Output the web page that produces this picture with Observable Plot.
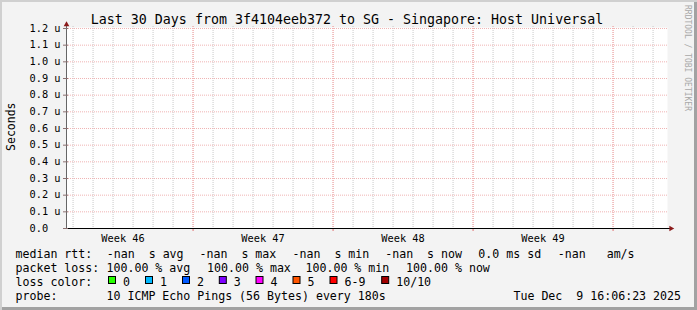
<!DOCTYPE html>
<html><head><meta charset="utf-8">
<script src="https://cdn.jsdelivr.net/npm/d3@7"></script>
<script src="https://cdn.jsdelivr.net/npm/@observablehq/plot@0.6"></script>
<style>
html,body{margin:0;padding:0;background:#f3f3f3;}
#chart{position:relative;width:697px;height:310px;background:#f3f3f3;overflow:hidden;
  box-shadow: inset 2px 2px 0 #d0d0d0, inset -3px -3px 0 #a2a2a2;}
#chart svg{position:absolute;left:0;top:0;}
#chart text{white-space:pre;}
</style></head><body><div id="chart"></div>
<script>
// ---------- data ----------
const title = "Last 30 Days from 3f4104eeb372 to SG - Singapore: Host Universal";
const yLabel = "Seconds";
const watermark = "RRDTOOL / TOBI OETIKER";
const periodStart = "2025-11-09T16:06:23Z";
const periodEnd = "2025-12-09T16:06:23Z";
const yTicks = [0, 0.1, 0.2, 0.3, 0.4, 0.5, 0.6, 0.7, 0.8, 0.9, 1.0, 1.1, 1.2];
const weekStarts = ["2025-11-16T00:00:00Z", "2025-11-23T00:00:00Z", "2025-11-30T00:00:00Z", "2025-12-07T00:00:00Z"];
const weekLabelDates = ["2025-11-12T12:00:00Z", "2025-11-19T12:00:00Z", "2025-11-26T12:00:00Z", "2025-12-03T12:00:00Z"];
const weekLabels = ["Week 46", "Week 47", "Week 48", "Week 49"];
const rttLabel = "median rtt:";
const rttItems = ["-nan  s avg", "-nan  s max", "-nan  s min", "-nan  s now", "0.0 ms sd", "-nan   am/s"];
const lossLabel = "packet loss:";
const lossItems = ["100.00 % avg", "100.00 % max", "100.00 % min", "100.00 % now"];
const lossColorLabel = "loss color:";
const lossLabels = ["0", "1", "2", "3", "4", "5", "6-9", "10/10"];
const lossColors = ["#26ff00", "#00b8ff", "#0059ff", "#7e00ff", "#ff00ff", "#ff5500", "#ff0000", "#a10000"];
const probeLabel = "probe:";
const probeText = "10 ICMP Echo Pings (56 Bytes) every 180s";
const timestamp = "Tue Dec  9 16:06:23 2025";

// ---------- layout ----------
const FONT = "'DejaVu Sans Mono', monospace";
const rowY = [258, 272, 286, 300];
const labelX = 15.5;
const rttX = [106.8, 199.5, 292.5, 385.2, 478.3, 557.8];
const lossX = [106.5, 207.1, 305.5, 406.1];
const swatchX = [108.5, 145.5, 182.5, 219.3, 256, 293, 330, 381.7];
const probeX = 106.5;
const stampX = 681;

// ---------- plot ----------
const x0 = new Date(periodStart), x1 = new Date(periodEnd);
const days = d3.utcDay.range(d3.utcDay.ceil(x0), x1);
const weeks = weekStarts.map(d => new Date(d));
const labelDates = weekLabelDates.map(d => new Date(d));
const labelMap = new Map(labelDates.map((d, i) => [+d, weekLabels[i]]));

const plot = Plot.plot({
  width: 697, height: 310,
  marginLeft: 66, marginRight: 31, marginTop: 28, marginBottom: 82,
  style: {background: "transparent", fontFamily: FONT, fontSize: "10.3px", color: "#000"},
  x: {type: "utc", domain: [x0, x1], label: null},
  y: {domain: [0, 1.2], label: null},
  marks: [
    Plot.frame({fill: "#fff", stroke: "none", insetTop: -1, insetRight: -1}),
    Plot.ruleX(days, {stroke: "#c8c8c8", strokeDasharray: "1,1", insetTop: -2}),
    Plot.ruleY(yTicks.filter(d => d > 0), {stroke: "#f0b4b4", strokeDasharray: "1,1", insetRight: -1}),
    Plot.ruleX(weeks, {stroke: "#ffa0a0", strokeDasharray: "1,1", insetTop: -2}),
    Plot.ruleX(weeks, {y1: 0, y2: 0, insetBottom: -3, stroke: "#e07070"}),
    Plot.ruleY([0], {stroke: "#000", insetLeft: -3, insetRight: -4}),
    Plot.ruleX([x0], {stroke: "#666", insetTop: -4}),
    Plot.dot([{x: x0, y: 1.2}], {x: "x", y: "y", symbol: "triangle", r: 2.1, fill: "#8b1a1a", dy: -4}),
    Plot.dot([{x: x1, y: 0}], {x: "x", y: "y", symbol: "triangle", r: 2.1, fill: "#8b1a1a", dx: 4.5, rotate: 90}),
    Plot.axisY({ticks: yTicks, tickFormat: d => d === 0 ? "0.0\u00a0\u00a0" : d.toFixed(1) + " u",
      tickSize: 5, dx: 2, tickPadding: 3, stroke: "#8a7070", label: null}),
    Plot.axisX({ticks: labelDates, tickFormat: d => labelMap.get(+d), tickSize: 0, tickPadding: 6, label: null})
  ]
});
document.getElementById("chart").appendChild(plot);

// ---------- texts / legend ----------
const svg = d3.select("#chart").append("svg").attr("width", 697).attr("height", 310)
  .style("font-family", FONT);

svg.append("text").attr("x", 347).attr("y", 24).attr("text-anchor", "middle")
  .style("font-size", "13.3px").attr("fill", "#000").text(title);

svg.append("text").attr("transform", "translate(15,126.7) rotate(-90)").attr("text-anchor", "middle")
  .style("font-size", "11.5px").attr("fill", "#000").text(yLabel);

svg.append("text").attr("transform", "translate(685,5) rotate(90)").attr("text-anchor", "start")
  .style("font-size", "8px").attr("fill", "#a8a8a8").text(watermark);

const lg = svg.append("g").style("font-size", "11.6px").attr("fill", "#000");
function put(x, y, s, anchor) {
  lg.append("text").attr("x", x).attr("y", y).attr("text-anchor", anchor || "start").text(s);
}
put(labelX, rowY[0], rttLabel);
rttItems.forEach((s, i) => put(rttX[i], rowY[0], s));
put(labelX, rowY[1], lossLabel);
lossItems.forEach((s, i) => put(lossX[i], rowY[1], s));
put(labelX, rowY[2], lossColorLabel);
lossLabels.forEach((s, i) => {
  lg.append("rect").attr("x", swatchX[i]).attr("y", rowY[2] - 9.5).attr("width", 7).attr("height", 7)
    .attr("fill", lossColors[i]).attr("stroke", "#000").attr("stroke-width", 1);
  put(swatchX[i] + 14.5, rowY[2], s);
});
put(labelX, rowY[3], probeLabel);
put(probeX, rowY[3], probeText);
put(stampX, rowY[3], timestamp, "end");
</script></body></html>
